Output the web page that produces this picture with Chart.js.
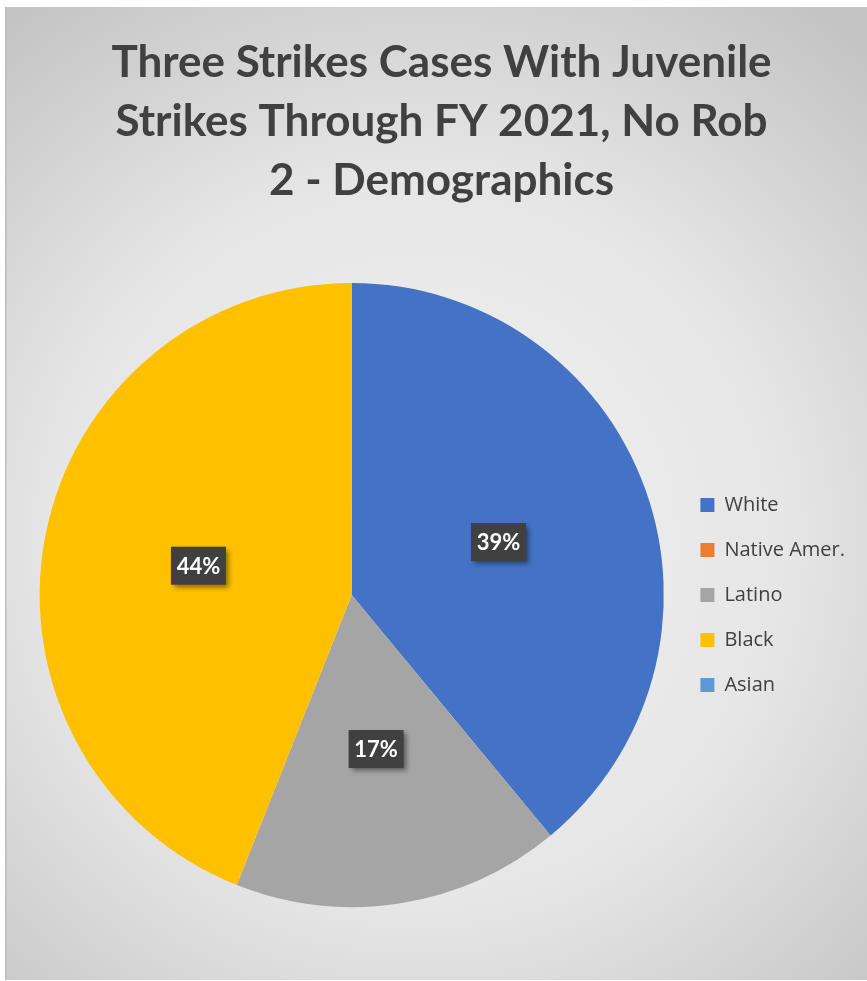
<!DOCTYPE html>
<html>
<head>
<meta charset="utf-8">
<script src="https://cdn.jsdelivr.net/npm/chart.js@4"></script>
<style>
  html, body { margin: 0; padding: 0; background: #fff; overflow: hidden; }
  #wrap { position: absolute; left: 5px; top: 7px; width: 882px; height: 973px; }
</style>
</head>
<body>
<div id="wrap"><canvas id="demoChart"></canvas></div>
<script>
// data
var categories = ["White", "Native Amer.", "Latino", "Black", "Asian"];
var shares = [39, 0, 17, 44, 0];
var sliceColors = ["#4472c4", "#ed7d31", "#a5a5a5", "#ffc000", "#5b9bd5"];
var titleLines = ["Three Strikes Cases With Juvenile", "Strikes Through FY 2021, No Rob", "2 - Demographics"];

// gray radial backdrop like the office chart area
var backdrop = {
    id: "backdrop",
    beforeDraw: function(chart) {
        var c = chart.ctx, w = chart.width, h = chart.height;
        var g = c.createRadialGradient(w * 0.47, h * 0.55, 0, w * 0.47, h * 0.55, Math.max(w, h) * 0.68);
        g.addColorStop(0, "#f2f2f2");
        g.addColorStop(0.55, "#e6e6e6");
        g.addColorStop(1, "#c4c4c4");
        c.save();
        c.fillStyle = g;
        c.fillRect(0, 0, w, h);
        c.fillStyle = "#bdbdbd";
        c.fillRect(0, 0, 1.5, h);
        c.restore();
    }
};

// dark boxed percentage labels
var boxLabels = {
    id: "boxLabels",
    afterDatasetsDraw: function(chart) {
        var c = chart.ctx;
        var meta = chart.getDatasetMeta(0);
        var total = shares.reduce(function(a, b) { return a + b; }, 0);
        c.save();
        c.font = "bold 22px Lato, 'Open Sans', sans-serif";
        c.textAlign = "center";
        c.textBaseline = "middle";
        meta.data.forEach(function(arc, i) {
            if (!shares[i]) return;
            var p = arc.tooltipPosition();
            var txt = Math.round(shares[i] / total * 100) + "%";
            var bw = 55, bh = 38;
            c.shadowColor = "rgba(0,0,0,0.45)";
            c.shadowBlur = 5;
            c.shadowOffsetX = 3;
            c.shadowOffsetY = 3;
            c.fillStyle = "#404040";
            c.fillRect(p.x - bw / 2, p.y - bh / 2, bw, bh);
            c.shadowColor = "transparent";
            c.fillStyle = "#ffffff";
            c.fillText(txt, p.x, p.y + 1);
        });
        c.restore();
    }
};

var ctx = document.getElementById("demoChart");
var demoChart = new Chart(ctx, {
    type: "pie",
    data: {
        labels: categories,
        datasets: [{
            data: shares,
            backgroundColor: sliceColors,
            borderWidth: 0
        }]
    },
    options: {
        responsive: true,
        maintainAspectRatio: false,
        animation: false,
        layout: { padding: { left: 23, right: 32, top: 0, bottom: 73 } },
        plugins: {
            title: {
                display: true,
                text: titleLines,
                color: "#404040",
                font: { family: "Lato, 'Open Sans', sans-serif", size: 44, weight: "bold", lineHeight: 1.34 },
                padding: { top: 26, bottom: 73 }
            },
            legend: {
                position: "right",
                // empty legend title only pushes the entries down to the pie's middle
                title: { display: true, text: "", font: { size: 1 }, padding: { top: 275, bottom: 0 } },
                labels: {
                    color: "#404040",
                    font: { family: "'Open Sans', Lato, sans-serif", size: 20 },
                    boxWidth: 14,
                    boxHeight: 14,
                    padding: 25
                }
            },
            tooltip: { enabled: false }
        }
    },
    plugins: [backdrop, boxLabels]
});
</script>
</body>
</html>
